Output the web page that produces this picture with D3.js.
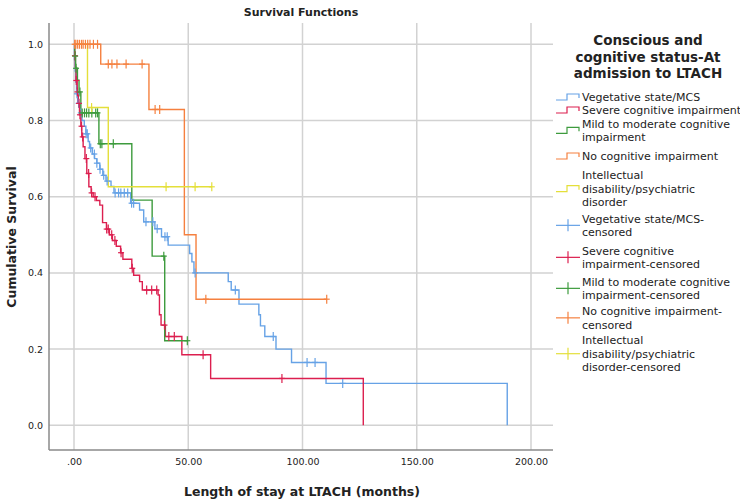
<!DOCTYPE html>
<html>
<head>
<meta charset="utf-8">
<script src="https://cdn.jsdelivr.net/npm/d3@7/dist/d3.min.js"></script>
<style>
  html, body { margin: 0; padding: 0; background: #fff; }
  svg { display: block; }
  text { font-family: "DejaVu Sans", sans-serif; fill: #222; }
</style>
</head>
<body>
<svg id="chart" width="740" height="502"></svg>
<script>
// ---------------- DATA ----------------
const seriesNames = ["Vegetative state/MCS", "Severe cognitive impairment",
  "Mild to moderate cognitive impairment", "No cognitive impairment",
  "Intellectual disability/psychiatric disorder"];

// Vegetative state/MCS
const vegEventT = [0.2, 0.5, 0.8, 1.1, 1.6, 2.5, 3.5, 4.5, 5.2, 6.2, 6.8, 8.0, 9.0, 10.0, 11.3, 12.6, 14.0, 16.2, 17.5,
  24.8, 28.7, 30.5, 35.4, 38.3, 41.2, 50.6, 51.6, 52.5, 67.5, 68.8, 72.2, 80.9, 81.6, 83.5, 88.4, 95.2, 110.3, 189.6];
const vegEventS = [0.96, 0.93, 0.90, 0.87, 0.845, 0.82, 0.80, 0.785, 0.765, 0.745, 0.728, 0.712, 0.70, 0.688, 0.672, 0.656, 0.641, 0.627, 0.61,
  0.583, 0.565, 0.534, 0.516, 0.495, 0.473, 0.451, 0.429, 0.40, 0.377, 0.355, 0.318, 0.29, 0.261, 0.233, 0.20, 0.165, 0.11, 0.0];
const vegCensT = [1.3, 2.0, 3.0, 5.3, 5.8, 7.3, 8.9, 10.0, 11.4, 13.0, 14.5, 18.0, 19.5, 20.5, 22.0, 23.5, 25.2, 26.1,
  31.5, 34.5, 36.4, 39.8, 40.8, 53.0, 70.6, 87.2, 102.0, 105.5, 117.6];

// Severe cognitive impairment
const sevEventT = [0.3, 0.6, 0.9, 1.4, 1.9, 2.4, 3.0, 3.4, 4.0, 4.8, 5.6, 6.5, 7.5, 8.4, 9.8, 11.3, 12.5, 14.2, 15.5, 16.8,
  18.5, 20.4, 21.4, 25.3, 26.1, 28.7, 29.9, 36.8, 37.4, 38.1, 40.0, 47.2, 59.8, 126.6];
const sevEventS = [0.97, 0.94, 0.905, 0.875, 0.845, 0.815, 0.785, 0.757, 0.731, 0.70, 0.661, 0.626, 0.61, 0.60, 0.59, 0.578, 0.532, 0.515, 0.50, 0.485,
  0.47, 0.453, 0.436, 0.412, 0.394, 0.377, 0.355, 0.342, 0.29, 0.263, 0.233, 0.185, 0.123, 0.0];
const sevCensT = [0.4, 1.0, 1.5, 2.2, 2.6, 3.3, 3.8, 5.4, 6.4, 7.7, 9.2, 14.3, 15.0, 16.5, 17.9, 20.6, 25.5,
  31.8, 34.0, 36.2, 39.6, 41.5, 43.9, 56.5, 91.0];

// Mild to moderate cognitive impairment
const mildEventT = [0.3, 0.7, 1.5, 2.2, 3.0, 10.9, 25.3, 34.2, 39.7];
const mildEventS = [0.969, 0.937, 0.906, 0.875, 0.82, 0.739, 0.591, 0.444, 0.222];
const mildCensT = [0.5, 0.9, 2.6, 3.6, 4.6, 5.5, 6.5, 7.8, 9.5, 10.3, 11.5, 12.2, 17.2, 39.3, 49.6];

// No cognitive impairment
const noneEventT = [11.7, 32.8, 48.3, 53.4];
const noneEventS = [0.948, 0.829, 0.50, 0.331];
const noneCensT = [0.3, 0.8, 1.6, 2.4, 3.3, 4.0, 5.0, 6.0, 7.0, 8.5, 10.3, 15.0, 16.6, 18.8, 22.8, 29.8, 35.5, 37.5, 57.7, 110.6];

// Intellectual disability/psychiatric disorder
const intEventT = [5.9, 15.0];
const intEventS = [0.834, 0.626];
const intCensT = [7.7, 40.3, 53.0, 60.3];

const xTicks = [0, 50, 100, 150, 200];
const xTickLabels = [".00", "50.00", "100.00", "150.00", "200.00"];
const yTicks = [0, 0.2, 0.4, 0.6, 0.8, 1.0];
const yTickLabels = ["0.0", "0.2", "0.4", "0.6", "0.8", "1.0"];

const legendTitle = ["Conscious and", "cognitive status-At", "admission to LTACH"];
const legendItems = [
  { lines: ["Vegetative state/MCS"], kind: "line", s: 0 },
  { lines: ["Severe cognitive impairment"], kind: "line", s: 1 },
  { lines: ["Mild to moderate cognitive", "impairment"], kind: "line", s: 2 },
  { lines: ["No cognitive impairment"], kind: "line", s: 3 },
  { lines: ["Intellectual", "disability/psychiatric", "disorder"], kind: "line", s: 4 },
  { lines: ["Vegetative state/MCS-", "censored"], kind: "cens", s: 0 },
  { lines: ["Severe cognitive", "impairment-censored"], kind: "cens", s: 1 },
  { lines: ["Mild to moderate cognitive", "impairment-censored"], kind: "cens", s: 2 },
  { lines: ["No cognitive impairment-", "censored"], kind: "cens", s: 3 },
  { lines: ["Intellectual", "disability/psychiatric", "disorder-censored"], kind: "cens", s: 4 }
];

// ---------------- STYLE / LAYOUT ----------------
const colors = ["#66a2e6", "#dc1f4f", "#3d9b3d", "#f5803f", "#e4df3a"];
const svg = d3.select("#chart");

const x = d3.scaleLinear().domain([0, 200]).range([74, 531]);
const y = d3.scaleLinear().domain([0, 1]).range([425.3, 44.3]);
const frame = { left: 49, right: 553, top: 23, bottom: 450 };

// gridlines
svg.append("g").selectAll("line").data(xTicks).join("line")
  .attr("x1", d => x(d)).attr("x2", d => x(d))
  .attr("y1", frame.top).attr("y2", frame.bottom)
  .attr("stroke", "#d2d2d2").attr("stroke-width", 1.5);
svg.append("g").selectAll("line").data(yTicks).join("line")
  .attr("x1", frame.left).attr("x2", frame.right)
  .attr("y1", d => y(d)).attr("y2", d => y(d))
  .attr("stroke", "#d2d2d2").attr("stroke-width", 1.5);

// axes lines
svg.append("line").attr("x1", frame.left).attr("x2", frame.left)
  .attr("y1", frame.top).attr("y2", frame.bottom).attr("stroke", "#8a8a8a").attr("stroke-width", 1.5);
svg.append("line").attr("x1", frame.left).attr("x2", frame.right)
  .attr("y1", frame.bottom).attr("y2", frame.bottom).attr("stroke", "#8a8a8a").attr("stroke-width", 1.5);

// axis tick labels via d3 axes
const xAxis = d3.axisBottom(x).tickValues(xTicks)
  .tickFormat((d, i) => xTickLabels[i]).tickSize(0).tickPadding(8);
const gx = svg.append("g").attr("transform", `translate(0,${frame.bottom})`).call(xAxis);
gx.select(".domain").remove();
gx.selectAll("text").style("font-family", "DejaVu Sans").style("font-size", "9.5px").attr("fill", "#333");

const yAxis = d3.axisLeft(y).tickValues(yTicks)
  .tickFormat((d, i) => yTickLabels[i]).tickSize(0).tickPadding(6);
const gy = svg.append("g").attr("transform", `translate(${frame.left},0)`).call(yAxis);
gy.select(".domain").remove();
gy.selectAll("text").style("font-family", "DejaVu Sans").style("font-size", "9.5px").attr("fill", "#333");

// titles
svg.append("text").attr("x", 301).attr("y", 16).attr("text-anchor", "middle")
  .style("font-weight", "bold").style("font-size", "11px").text("Survival Functions");
svg.append("text").attr("transform", "translate(16,237) rotate(-90)").attr("text-anchor", "middle")
  .style("font-weight", "bold").style("font-size", "12.5px").text("Cumulative Survival");
svg.append("text").attr("x", 302).attr("y", 496).attr("text-anchor", "middle")
  .style("font-weight", "bold").style("font-size", "12.5px").text("Length of stay at LTACH (months)");

// ---------------- CURVES ----------------
const series = [
  { et: vegEventT, es: vegEventS, ct: vegCensT },
  { et: sevEventT, es: sevEventS, ct: sevCensT },
  { et: mildEventT, es: mildEventS, ct: mildCensT },
  { et: noneEventT, es: noneEventS, ct: noneCensT },
  { et: intEventT, es: intEventS, ct: intCensT }
];

function survAt(sr, t) {
  let s = 1;
  for (let i = 0; i < sr.et.length; i++) { if (sr.et[i] <= t) s = sr.es[i]; }
  return s;
}

const line = d3.line().x(d => x(d[0])).y(d => y(d[1])).curve(d3.curveStepAfter);
const curveG = svg.append("g");
const censG = svg.append("g");
series.forEach((sr, i) => {
  const pts = [[0, 1]];
  sr.et.forEach((t, k) => pts.push([t, sr.es[k]]));
  const lastEvent = sr.et[sr.et.length - 1];
  const lastCens = d3.max(sr.ct);
  if (lastCens > lastEvent) pts.push([lastCens, survAt(sr, lastCens)]);
  curveG.append("path").attr("d", line(pts)).attr("fill", "none")
    .attr("stroke", colors[i]).attr("stroke-width", 1.4);
});
series.forEach((sr, i) => {
  const g = censG.append("g").attr("stroke", colors[i]).attr("stroke-width", 1.2);
  sr.ct.forEach(t => {
    const cx = x(t), cy = y(survAt(sr, t));
    g.append("line").attr("x1", cx).attr("x2", cx).attr("y1", cy - 4.5).attr("y2", cy + 4.5);
    g.append("line").attr("x1", cx - 3).attr("x2", cx + 3).attr("y1", cy).attr("y2", cy);
  });
});

// ---------------- LEGEND ----------------
const lg = svg.append("g");
legendTitle.forEach((t, i) => {
  lg.append("text").attr("x", 648).attr("y", 45 + i * 16.5).attr("text-anchor", "middle")
    .style("font-weight", "bold").style("font-size", "13.5px").text(t);
});
const itemFirstBaseline = [101, 114, 127.5, 160, 179, 222.5, 254.5, 285.5, 315, 344];
const lineGap = 13.7;
legendItems.forEach((it, i) => {
  const b0 = itemFirstBaseline[i];
  it.lines.forEach((ln, k) => {
    lg.append("text").attr("x", 582).attr("y", b0 + k * lineGap)
      .style("font-size", "11px").text(ln);
  });
  const cy = b0 - 4 + (it.lines.length - 1) * lineGap / 2;
  const c = colors[it.s];
  if (it.kind === "line") {
    lg.append("path").attr("d", `M556,${cy + 3}H567V${cy - 3}H579V${cy + 1}`)
      .attr("fill", "none").attr("stroke", c).attr("stroke-width", 1.2);
  } else {
    lg.append("line").attr("x1", 556).attr("x2", 580).attr("y1", cy).attr("y2", cy).attr("stroke", c).attr("stroke-width", 1.2);
    lg.append("line").attr("x1", 568).attr("x2", 568).attr("y1", cy - 6).attr("y2", cy + 6).attr("stroke", c).attr("stroke-width", 1.2);
  }
});
</script>
</body>
</html>
